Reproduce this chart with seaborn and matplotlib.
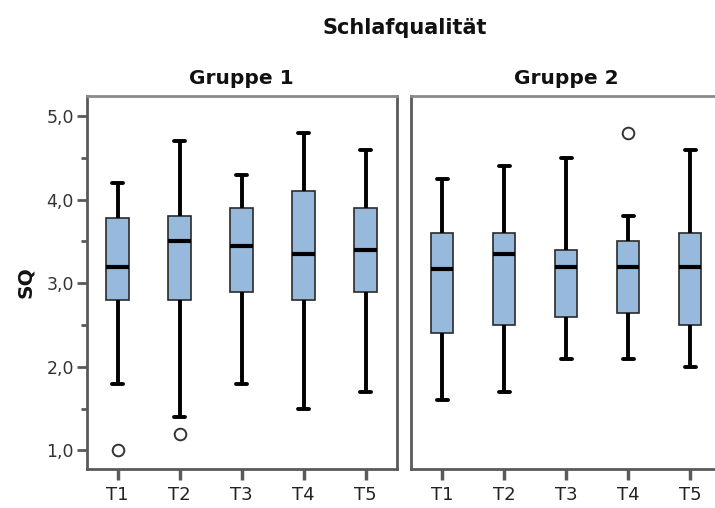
import numpy as np
import pandas as pd
import matplotlib
matplotlib.use("Agg")
import matplotlib.pyplot as plt
from matplotlib.ticker import FixedLocator
import seaborn as sns

# ---- data ----
times = ["T1", "T2", "T3", "T4", "T5"]
groups = ["Gruppe 1", "Gruppe 2"]

# Gruppe 1 summary statistics per time point
g1_low = [1.8, 1.4, 1.8, 1.5, 1.7]
g1_q1 = [2.8, 2.8, 2.9, 2.8, 2.9]
g1_med = [3.2, 3.5, 3.45, 3.35, 3.4]
g1_q3 = [3.78, 3.8, 3.9, 4.1, 3.9]
g1_high = [4.2, 4.7, 4.3, 4.8, 4.6]
g1_out_time = ["T1", "T2"]
g1_out_val = [1.0, 1.2]

# Gruppe 2 summary statistics per time point
g2_low = [1.6, 1.7, 2.1, 2.1, 2.0]
g2_q1 = [2.4, 2.5, 2.6, 2.65, 2.5]
g2_med = [3.17, 3.35, 3.2, 3.2, 3.2]
g2_q3 = [3.6, 3.6, 3.4, 3.5, 3.6]
g2_high = [4.25, 4.4, 4.5, 3.8, 4.6]
g2_out_time = ["T4"]
g2_out_val = [4.8]

y_ticks = [1.0, 2.0, 3.0, 4.0, 5.0]
y_tick_labels = ["1,0", "2,0", "3,0", "4,0", "5,0"]

# five-point samples that reproduce each box exactly (min, q1, median, q3, max)
def build(low, q1, med, q3, high):
    rows = []
    for t, a, b, c, d, e in zip(times, low, q1, med, q3, high):
        for v in (a, b, c, d, e):
            rows.append({"Zeit": t, "SQ": v})
    return pd.DataFrame(rows)

df1 = build(g1_low, g1_q1, g1_med, g1_q3, g1_high)
df2 = build(g2_low, g2_q1, g2_med, g2_q3, g2_high)
out1 = pd.DataFrame({"Zeit": g1_out_time, "SQ": g1_out_val})
out2 = pd.DataFrame({"Zeit": g2_out_time, "SQ": g2_out_val})

sns.set_style("white")
plt.rcParams["font.family"] = ["DejaVu Sans"]

fig = plt.figure(figsize=(7.15, 5.08), dpi=100)
W = 0.4336
ax1 = fig.add_axes([0.121, 0.077, W, 0.734])
ax2 = fig.add_axes([0.575, 0.077, W, 0.734])

box_color = "#97BADC"
frame_color = "#5a5a5a"

for ax, df, out, title in [(ax1, df1, out1, groups[0]), (ax2, df2, out2, groups[1])]:
    sns.boxplot(
        data=df, x="Zeit", y="SQ", order=times, ax=ax,
        color=box_color, saturation=1, width=0.36, whis=(0, 100),
        showfliers=False, linewidth=1.2,
        boxprops=dict(facecolor=box_color, edgecolor="#2a2a2a", linewidth=1.2),
        medianprops=dict(color="black", linewidth=3),
        whiskerprops=dict(color="black", linewidth=2.8),
        capprops=dict(color="black", linewidth=2.8),
        capwidths=0.18,
    )
    sns.scatterplot(
        data=out, x="Zeit", y="SQ", ax=ax, marker="o", s=70,
        facecolor="white", edgecolor="#333333", linewidth=1.4, zorder=5,
    )
    ax.set_xlim(-0.5, 4.5)
    ax.set_ylim(0.78, 5.24)
    ax.set_xlabel("")
    ax.set_ylabel("")
    ax.set_title(title, fontsize=14.5, fontweight="bold", pad=8.5, color="#111111")
    for sp in ax.spines.values():
        sp.set_visible(True)
        sp.set_color(frame_color)
        sp.set_linewidth(2)
    ax.spines["top"].set_color("#8a8a8a")
    ax.tick_params(axis="x", bottom=True, direction="out", length=8, width=2.5,
                   color=frame_color, labelsize=13, labelcolor="#222222", pad=4)
    ax.grid(False)

ax1.set_yticks(y_ticks)
ax1.set_yticklabels(y_tick_labels)
ax1.yaxis.set_minor_locator(FixedLocator([1.5, 2.5, 3.5, 4.5]))
ax1.tick_params(axis="y", which="major", direction="out", length=7, width=2,
                color=frame_color, labelsize=12.5, labelcolor="#333333", pad=2, left=True)
ax1.tick_params(axis="y", which="minor", direction="out", length=4, width=2,
                color=frame_color, left=True)
ax1.set_ylabel("SQ", fontsize=14.5, fontweight="bold", labelpad=8, color="#111111")

ax2.set_yticks([])
ax2.tick_params(axis="y", left=False, labelleft=False)

fig.text(0.566, 0.944, "Schlafqualität", ha="center", va="center",
         fontsize=15, fontweight="bold", color="#111111")

fig.savefig("out.png", dpi=100)
